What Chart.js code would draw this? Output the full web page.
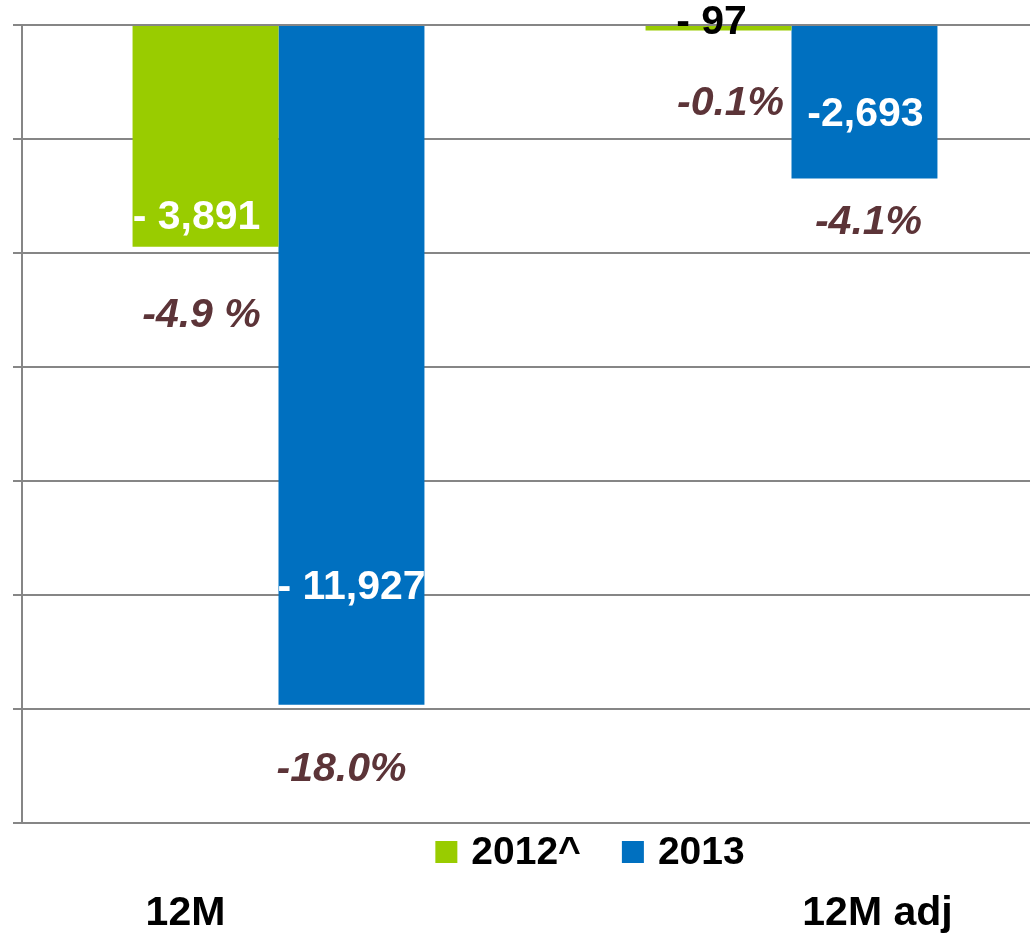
<!DOCTYPE html>
<html>
<head>
<meta charset="utf-8">
<script src="https://cdn.jsdelivr.net/npm/chart.js@4/dist/chart.umd.min.js"></script>
<style>
html,body{margin:0;padding:0;background:#fff;overflow:hidden;width:1030px;height:933px}
#wrap{position:absolute;left:0;top:0;width:1050px;height:933px}
</style>
</head>
<body>
<div id="wrap"><canvas id="c"></canvas></div>
<script>
// ---- data ----
const categories = ["12M", "12M adj"];
const seriesNames = ["2012^", "2013"];
const values2012 = [-3891, -97];
const values2013 = [-11927, -2693];
const valueLabels2012 = ["- 3,891", "- 97"];
const valueLabels2013 = ["- 11,927", "-2,693"];
const pctLabels2012 = ["-4.9 %", "-0.1%"];
const pctLabels2013 = ["-18.0%", "-4.1%"];
const yMin = -14000, yMax = 0, yStep = 2000;

// ---- styles / layout ----
const GREEN = "#99CC00", BLUE = "#0070C0", PCT = "#5C3438", GRID = "#868686";
const FONT = "'Liberation Sans', Arial, sans-serif";
// label offsets relative to bar end (x: bar centre, y: bar end)
const labelLayout = [
  { value: [{dx:-9, dy:-29, color:"#fff"}, {dx:-7, dy:-8, color:"#000"}],
    pct:   [{dx:-4, dy:69}, {dx:12, dy:73}] },
  { value: [{dx:0, dy:-117, color:"#fff"}, {dx:1, dy:-64, color:"#fff"}],
    pct:   [{dx:-10, dy:65}, {dx:4, dy:44}] }
];
const catLabelDx = [-93, 86];

const valueLabels = [valueLabels2012, valueLabels2013];
const pctLabels = [pctLabels2012, pctLabels2013];

const labelPlugin = {
  id: "labels",
  afterDraw(chart) {
    const ctx = chart.ctx;
    ctx.save();
    ctx.textAlign = "center";
    ctx.textBaseline = "middle";
    chart.data.datasets.forEach((ds, i) => {
      const meta = chart.getDatasetMeta(i);
      meta.data.forEach((el, j) => {
        const v = labelLayout[i].value[j];
        ctx.font = "bold 41px " + FONT;
        ctx.fillStyle = v.color;
        ctx.fillText(valueLabels[i][j], el.x + v.dx, el.y + v.dy);
        const p = labelLayout[i].pct[j];
        ctx.font = "italic bold 41px " + FONT;
        ctx.fillStyle = PCT;
        ctx.fillText(pctLabels[i][j], el.x + p.dx, el.y + p.dy);
      });
    });
    // category labels
    const xs = chart.scales.x;
    ctx.font = "bold 41px " + FONT;
    ctx.fillStyle = "#000";
    ctx.textBaseline = "alphabetic";
    categories.forEach((c, k) => {
      ctx.fillText(c, xs.getPixelForValue(k) + catLabelDx[k], 925);
    });
    // legend
    ctx.font = "bold 39px " + FONT;
    const box = 22, gapText = 14, gapItem = 41;
    let total = 0;
    const widths = chart.data.datasets.map(ds => ctx.measureText(ds.label).width);
    widths.forEach((w, i) => { total += box + gapText + w + (i < widths.length - 1 ? gapItem : 0); });
    let x = 590 - total / 2;
    const cy = 852;
    ctx.textAlign = "left";
    ctx.textBaseline = "middle";
    chart.data.datasets.forEach((ds, i) => {
      ctx.fillStyle = ds.backgroundColor;
      ctx.fillRect(x, cy - box / 2, box, box);
      x += box + gapText;
      ctx.fillStyle = "#000";
      ctx.fillText(ds.label, x, cy + 1);
      x += widths[i] + gapItem;
    });
    ctx.restore();
  }
};

new Chart(document.getElementById("c"), {
  type: "bar",
  data: {
    labels: categories,
    datasets: [
      { label: seriesNames[0], data: values2012, backgroundColor: GREEN, borderWidth: 0 },
      { label: seriesNames[1], data: values2013, backgroundColor: BLUE, borderWidth: 0 }
    ]
  },
  options: {
    responsive: true,
    maintainAspectRatio: false,
    animation: false,
    layout: { padding: { left: 13, right: 2, top: 25, bottom: 110 } },
    datasets: { bar: { categoryPercentage: 0.569, barPercentage: 1.0 } },
    plugins: { legend: { display: false }, tooltip: { enabled: false } },
    scales: {
      x: { display: false },
      y: {
        min: yMin, max: yMax,
        ticks: { display: false, stepSize: yStep },
        grid: { color: GRID, lineWidth: 2, tickLength: 9, drawTicks: true },
        border: { color: GRID, width: 2 }
      }
    }
  },
  plugins: [labelPlugin]
});
</script>
</body>
</html>
